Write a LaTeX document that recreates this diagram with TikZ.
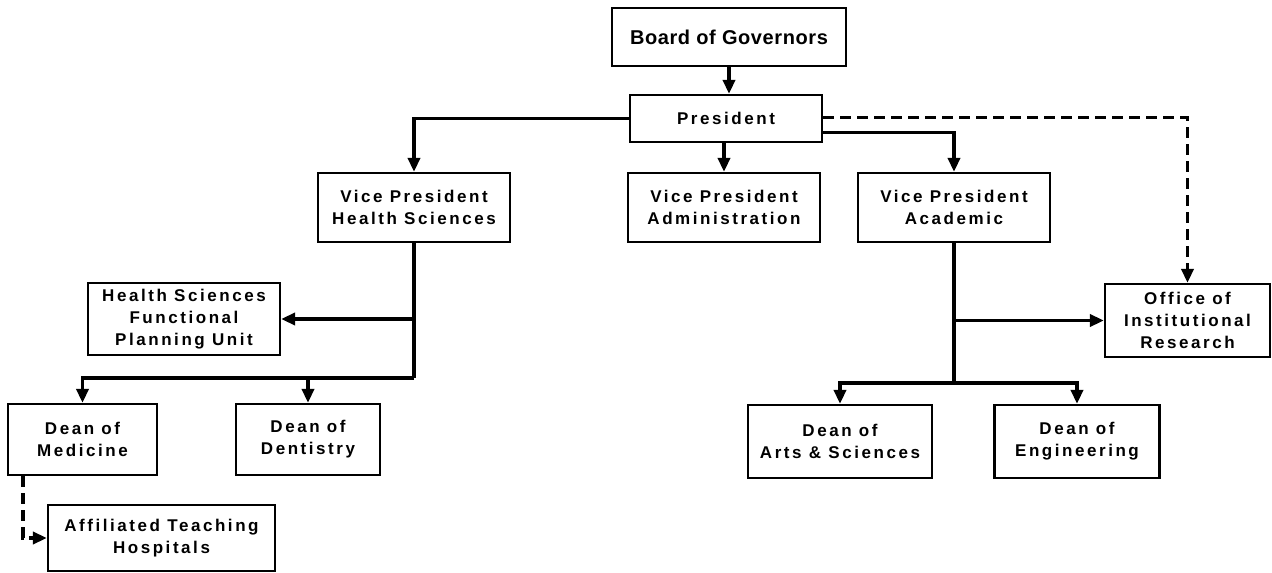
\documentclass[tikz,border=0pt]{standalone}
\usepackage{fontspec}
\setmainfont{Liberation Sans}[LetterSpace=15]
\newfontfamily\titlefont{Liberation Sans}[LetterSpace=3]
\usetikzlibrary{arrows.meta}
\begin{document}
\begin{tikzpicture}[x=1pt,y=-1pt,
  box/.style={draw,line width=2.2pt,rectangle,align=center,inner sep=0pt,
    font=\fontsize{17}{22}\selectfont\bfseries},
  conn/.style={line width=3.5pt,-{Triangle[length=14pt,width=12pt]}},
  plain/.style={line width=3.5pt},
  dconn/.style={conn,dash pattern=on 11pt off 6pt}]
\useasboundingbox (0,0) rectangle (1272,573);

% boxes
\node[box,minimum width=234pt,minimum height=58pt,
  font=\titlefont\fontsize{20}{24}\selectfont\bfseries] (bog) at (729,37) {Board of Governors};
\node[box,minimum width=192pt,minimum height=47pt] (pres) at (726,118.5) {President};
\node[box,minimum width=192pt,minimum height=69pt] (vph) at (414,207.5) {Vice President\\Health Sciences};
\node[box,minimum width=192pt,minimum height=69pt] (vpa) at (724,207.5) {Vice President\\Administration};
\node[box,minimum width=192pt,minimum height=69pt] (vpac) at (954,207.5) {Vice President\\Academic};
\node[box,minimum width=165pt,minimum height=73pt] (oir) at (1187.5,320.5) {Office of\\Institutional\\Research};
\node[box,minimum width=192pt,minimum height=72pt] (hsf) at (184,319) {Health Sciences\\Functional\\Planning Unit};
\node[box,minimum width=149pt,minimum height=71pt] (dmed) at (82.5,439.5) {Dean of\\Medicine};
\node[box,minimum width=144pt,minimum height=71pt] (ddent) at (308,439.5) {Dean of\\Dentistry};
\node[box,minimum width=184pt,minimum height=73pt] (darts) at (840,441.5) {Dean of\\Arts \& Sciences};
\node[box,minimum width=165pt,minimum height=73pt] (deng) at (1077,441.5) {Dean of\\Engineering};
\node[box,minimum width=227pt,minimum height=66pt] (aff) at (161.5,538) {Affiliated Teaching\\Hospitals};

% branch rows
\coordinate (hrow) at (0,378);
\coordinate (arow) at (0,383);

% connectors
\draw[conn] (bog) -- (bog.south |- pres.north);
\draw[conn] (pres.west) -| (vph.north);
\draw[conn] (pres.south -| vpa.north) -- (vpa.north);
\draw[conn] ([yshift=-14pt]pres.east) -| (vpac.north);
\draw[dconn] ([yshift=1pt]pres.east) -| (oir.north);

\draw[plain] (vph.south) -- (vph.south |- hrow);
\draw[conn] (vph.south |- hsf.east) -- (hsf.east);
\draw[conn] (vph.south |- hrow) -| (dmed.north);
\draw[conn] (ddent.north |- hrow) -- (ddent.north);
\draw[dconn] ([xshift=-59.5pt]dmed.south) |- (aff.west);

\draw[plain] (vpac.south) -- (vpac.south |- arow);
\draw[conn] (vpac.south |- oir.west) -- (oir.west);
\draw[conn] (vpac.south |- arow) -| (darts.north);
\draw[conn] (vpac.south |- arow) -| (deng.north);
\end{tikzpicture}
\end{document}
